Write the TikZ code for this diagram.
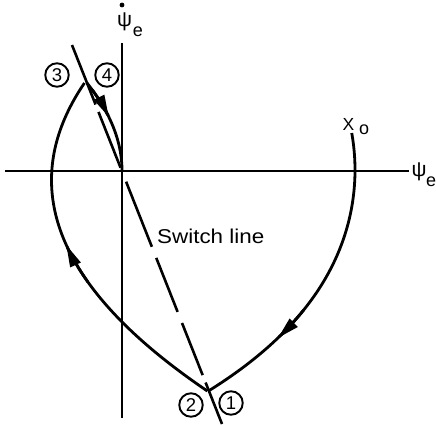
\documentclass[tikz,border=0pt]{standalone}
\usepackage{fontspec}
\setmainfont{Liberation Sans}
\newfontfamily\swfont[FakeStretch=1.12]{Liberation Sans}
\usetikzlibrary{arrows.meta}
\begin{document}
\begin{tikzpicture}[x=1pt,y=-1pt,
  axis/.style={line width=1.6pt},
  traj/.style={line width=2.8pt},
  switchl/.style={line width=2.6pt, dash pattern=on 64pt off 8pt on 60pt off 15pt on 70pt off 12pt on 58pt off 12pt on 56pt off 8pt on 60pt},
  tipa/.style={-{Triangle[length=22pt,width=11pt]}},
  circ/.style={circle, draw, line width=1.9pt, minimum size=23.5pt, inner sep=0pt, font=\fontsize{18.5}{18.5}\selectfont},
  lab/.style={inner sep=0pt, font=\fontsize{21}{21}\selectfont},
  sub/.style={inner sep=0pt, font=\fontsize{18}{18}\selectfont}]
\useasboundingbox (0,0) rectangle (436,424);
% axes
\coordinate (htl) at (5,171);
\coordinate (htr) at (409,171);
\coordinate (vt) at (122,43);
\coordinate (vb) at (122,418);
\draw[axis] (htl) -- (htr);
\draw[axis] (vt) -- (vb);
% switch line
\coordinate (s1) at (72,45);
\coordinate (s2) at (222,424);
\draw[switchl] (s1) -- (s2);
% left branch (2 -> 3)
\draw[traj] plot[domain=391:83, samples=80] ({51.5+0.35*((\x-180)/10)^2},\x);
\draw[traj, tipa] plot[domain=282:245, samples=20] ({51.5+0.35*((\x-180)/10)^2},\x);
% branch 4 -> origin
\draw[traj] plot[domain=83:171, samples=60] ({122-0.452*((\x-171)/10)^2},\x);
\draw[traj, tipa] plot[domain=90:117, samples=20] ({122-0.452*((\x-171)/10)^2},\x);
% right branch X0 -> 1
\draw[traj] plot[domain=133:391, samples=90] ({355-0.2363*((\x-170)/10)^2-1.307*((\x-170)/100)^4},\x);
\draw[traj, tipa] plot[domain=310:338, samples=20] ({355-0.2363*((\x-170)/10)^2-1.307*((\x-170)/100)^4},\x);
% circled labels
\node[circ] (c3) at (57,75) {3};
\node[circ] (c4) at (107,75) {4};
\node[circ] (c2) at (191,405) {2};
\node[circ] (c1) at (231,403) {1};
% axis labels
\node[lab] (psiv) at (124.5,22) {ψ};
\node[sub] (ev) at (138,32) {e};
\fill (122,5) circle (2.4pt);
\node[lab] (psih) at (419,172) {ψ};
\node[sub] (eh) at (431,182) {e};
\node[inner sep=0pt, font=\fontsize{17.5}{17.5}\selectfont] (X) at (348.5,124) {X};
\node[sub] (o) at (364,130) {o};
\node[inner sep=0pt, anchor=west, font=\swfont\fontsize{20}{20}\selectfont] (sw) at (157,236) {Switch line};
\end{tikzpicture}
\end{document}
